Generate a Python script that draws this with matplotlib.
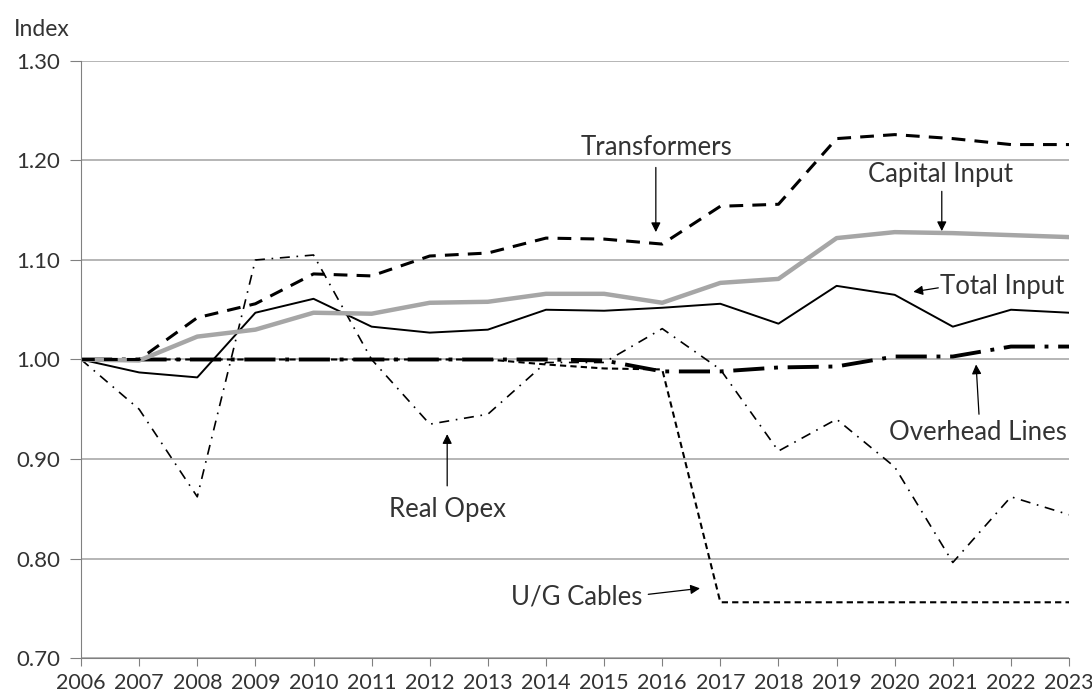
import matplotlib.pyplot as plt
import numpy as np

plt.rcParams['font.family'] = ['Lato', 'DejaVu Sans']

years = list(range(2006, 2024))

transformers = [1.000, 1.000, 1.042, 1.056, 1.086, 1.084, 1.104, 1.107, 1.122, 1.121,
                1.116, 1.154, 1.156, 1.222, 1.226, 1.222, 1.216, 1.216]
capital_input = [1.000, 0.999, 1.023, 1.030, 1.047, 1.046, 1.057, 1.058, 1.066, 1.066,
                 1.057, 1.077, 1.081, 1.122, 1.128, 1.127, 1.125, 1.123]
total_input = [1.000, 0.987, 0.982, 1.047, 1.061, 1.033, 1.027, 1.030, 1.050, 1.049,
               1.052, 1.056, 1.036, 1.074, 1.065, 1.033, 1.050, 1.047]
overhead_lines = [1.000, 1.000, 1.000, 1.000, 1.000, 1.000, 1.000, 1.000, 1.000, 0.999,
                  0.988, 0.988, 0.992, 0.993, 1.003, 1.003, 1.013, 1.013]
real_opex = [1.000, 0.950, 0.862, 1.100, 1.105, 1.000, 0.935, 0.945, 0.997, 0.997,
             1.031, 0.990, 0.908, 0.940, 0.892, 0.796, 0.862, 0.844]
ug_cables = [1.000, 1.000, 1.000, 1.000, 1.000, 1.000, 1.000, 1.000, 0.995, 0.991,
             0.990, 0.756, 0.756, 0.756, 0.756, 0.756, 0.756, 0.756]

fig = plt.figure(figsize=(10.92, 6.93), dpi=100)
ax = fig.add_axes([0.0742, 0.0505, 0.9048, 0.8615])

ax.plot(years, ug_cables, color="black", lw=1.5, dashes=(3, 2))
ax.plot(years, real_opex, color="black", lw=1.2, dashes=(6, 4, 1, 4))
ax.plot(years, overhead_lines, color="black", lw=2.8, dashes=(8, 2.5, 1, 2.5))
ax.plot(years, total_input, color="black", lw=1.4)
ax.plot(years, capital_input, color="#a6a6a6", lw=3.2)
ax.plot(years, transformers, color="black", lw=2.2, dashes=(4.5, 3))

ax.set_xlim(2006, 2023)
ax.set_ylim(0.70, 1.30)
ax.set_xticks(years)
ax.set_yticks(np.arange(0.70, 1.31, 0.10))
ax.yaxis.set_major_formatter(plt.FuncFormatter(lambda v, p: f"{v:.2f}"))
ax.yaxis.grid(True, color="#b0b0b0", lw=1.3)
ax.set_axisbelow(True)
for s in ["top", "right"]:
    ax.spines[s].set_visible(False)
for s in ["left", "bottom"]:
    ax.spines[s].set_color("#808080")
txt = "#333333"
ax.tick_params(axis="y", length=8, color="#808080", labelsize=16, labelcolor=txt, pad=7)
ax.tick_params(axis="x", length=6, color="#808080", labelsize=15.5, labelcolor=txt, pad=5)

fig.text(0.013, 0.957, "Index", fontsize=16.5, color=txt, va="center")

# labels, then arrows from tail to tip
tk = dict(fontsize=18.5, color=txt, ha="center", va="center")
ax.text(2015.91, 1.213, "Transformers", **tk)
ax.text(2020.78, 1.186, "Capital Input", **tk)
ax.text(2021.85, 1.073, "Total Input", **tk)
ax.text(2021.43, 0.927, "Overhead Lines", **tk)
ax.text(2012.30, 0.849, "Real Opex", **tk)
ax.text(2014.53, 0.761, "U/G Cables", **tk)

arrow = dict(arrowstyle="-|>", color="black", lw=0.9, mutation_scale=14, shrinkA=0, shrinkB=0)
arrows = [((2015.89, 1.193), (2015.89, 1.128)),
          ((2020.81, 1.169), (2020.81, 1.129)),
          ((2020.75, 1.072), (2020.32, 1.068)),
          ((2021.45, 0.945), (2021.40, 0.995)),
          ((2012.30, 0.873), (2012.30, 0.925)),
          ((2015.76, 0.764), (2016.65, 0.770))]
for tail, tip in arrows:
    ax.annotate("", xy=tip, xytext=tail, arrowprops=arrow)

plt.savefig("out.png", dpi=100)
